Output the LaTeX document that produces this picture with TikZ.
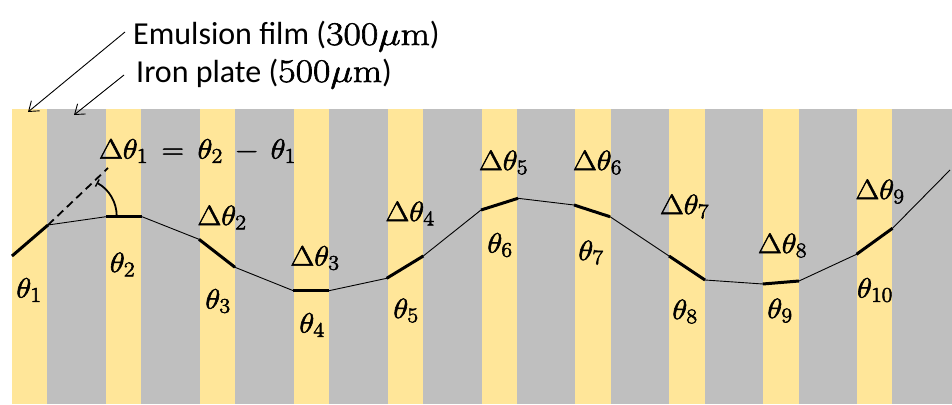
\RequirePackage{fix-cm}
\documentclass[tikz,border=0pt]{standalone}
\usepackage{graphicx}
\usepackage{fontspec}
\newfontfamily\carlito{Carlito}
\usetikzlibrary{arrows.meta}
\DeclareMathSizes{28}{28}{21}{16}
\DeclareMathSizes{33}{33}{23}{17}
\definecolor{emul}{HTML}{FFE699}
\definecolor{iron}{HTML}{BFBFBF}
% slightly heavier glyph strokes (text render mode fill+stroke)
\newcommand{\heavyon}{\special{pdf:literal 2 Tr 0.55 w}}
\newcommand{\heavyoff}{\special{pdf:literal 0 Tr 0.4 w}}
\newcommand{\wm}[1]{\heavyon\scalebox{1.1}[1]{$#1$}\heavyoff}
\newcommand{\um}[1]{\heavyon\scalebox{1.15}[1]{\fontsize{33}{36}\selectfont$#1\mu\mathrm{m}$}\heavyoff}
\tikzset{
  thintrack/.style={line width=0.9pt, line join=round},
  thicktrack/.style={line width=3pt},
  lbl/.style={inner sep=0pt, font=\fontsize{28}{32}\selectfont},
  toplbl/.style={inner sep=0pt, anchor=base west, font=\carlito\fontsize{32}{36}\selectfont},
  pointer/.style={line width=0.9pt, -{Straight Barb[length=9pt,width=13pt,line width=0.9pt]}},
  extline/.style={line width=1.8pt, dash pattern=on 8pt off 5pt},
  anglearc/.style={line width=1.8pt, -{Bar[width=8pt,line width=1.4pt]}}
}
\begin{document}
\begin{tikzpicture}[x=1pt,y=-1pt]
\useasboundingbox (0,0) rectangle (952,404);
% layers: iron plates and emulsion films
\fill[iron] (12,109) rectangle (952,404);
\foreach \i in {0,...,9}
  \fill[emul] ({12+93.9*\i},109) rectangle ++(35.3,295);

% track points
\coordinate (p0) at (12,256);
\coordinate (p1) at (48,225);
\coordinate (p2) at (106,216.7);
\coordinate (p3) at (142,216.7);
\coordinate (p4) at (199,239.3);
\coordinate (p5) at (235,267.3);
\coordinate (p6) at (293.3,290.7);
\coordinate (p7) at (329,290.7);
\coordinate (p8) at (386.7,278.3);
\coordinate (p9) at (423.3,256);
\coordinate (p10) at (481,210);
\coordinate (p11) at (518,198.3);
\coordinate (p12) at (574,205);
\coordinate (p13) at (610,216.7);
\coordinate (p14) at (669,256);
\coordinate (p15) at (705,280);
\coordinate (p16) at (762.7,284);
\coordinate (p17) at (799,281);
\coordinate (p18) at (856.5,254.3);
\coordinate (p19) at (892.5,228.3);
\coordinate (p20) at (950,170);

\draw[thintrack] (p0)--(p1)--(p2)--(p3)--(p4)--(p5)--(p6)--(p7)--(p8)--(p9)--(p10)
  --(p11)--(p12)--(p13)--(p14)--(p15)--(p16)--(p17)--(p18)--(p19)--(p20);
\foreach \a/\b in {p0/p1,p2/p3,p4/p5,p6/p7,p8/p9,p10/p11,p12/p13,p14/p15,p16/p17,p18/p19}
  \draw[thicktrack] (\a)--(\b);

% extension of first segment and angle arc
\coordinate (dT) at (108,168);
\draw[extline] (p1) -- (dT);
\coordinate (aS) at (116.7,216);
\draw[anglearc] (aS) arc[start angle=0,end angle=-62,radius=37.7];

% labels
\node[lbl] (t1) at (29,290) {\wm{\theta_1}};
\node[lbl] (t2) at (122.5,264.5) {\wm{\theta_2}};
\node[lbl] (t3) at (218,301) {\wm{\theta_3}};
\node[lbl] (t4) at (312,325) {\wm{\theta_4}};
\node[lbl] (t5) at (406,310.5) {\wm{\theta_5}};
\node[lbl] (t6) at (500,245) {\wm{\theta_6}};
\node[lbl] (t7) at (591,252.5) {\wm{\theta_7}};
\node[lbl] (t8) at (685,311.5) {\wm{\theta_8}};
\node[lbl] (t9) at (780,310.5) {\wm{\theta_9}};
\node[lbl] (t10) at (875,290) {\wm{\theta_{10}}};

\node[lbl] (d1) at (197.5,151) {\wm{\Delta\theta_1\,=\,\theta_2\,-\,\theta_1}};
\node[lbl] (d2) at (222,217.5) {\wm{\Delta\theta_2}};
\node[lbl] (d3) at (315,258) {\wm{\Delta\theta_3}};
\node[lbl] (d4) at (410,213.5) {\wm{\Delta\theta_4}};
\node[lbl] (d5) at (503.5,162.5) {\wm{\Delta\theta_5}};
\node[lbl] (d6) at (597.5,162.5) {\wm{\Delta\theta_6}};
\node[lbl] (d7) at (684.5,206.5) {\wm{\Delta\theta_7}};
\node[lbl] (d8) at (782.5,245.5) {\wm{\Delta\theta_8}};
\node[lbl] (d9) at (880,191.5) {\wm{\Delta\theta_9}};

% top labels with pointers
\node[toplbl] (emtext) at (133,45) {Emulsion film (\um{300})};
\node[toplbl] (irtext) at (136,82) {Iron plate (\um{500})};
\coordinate (emS) at ([shift={(-8,-13)}]emtext.base west);
\coordinate (emT) at (28,112);
\coordinate (irS) at ([shift={(-12,-7)}]irtext.base west);
\coordinate (irT) at (74,115);
\draw[pointer] (emS) -- (emT);
\draw[pointer] (irS) -- (irT);
\end{tikzpicture}
\end{document}
